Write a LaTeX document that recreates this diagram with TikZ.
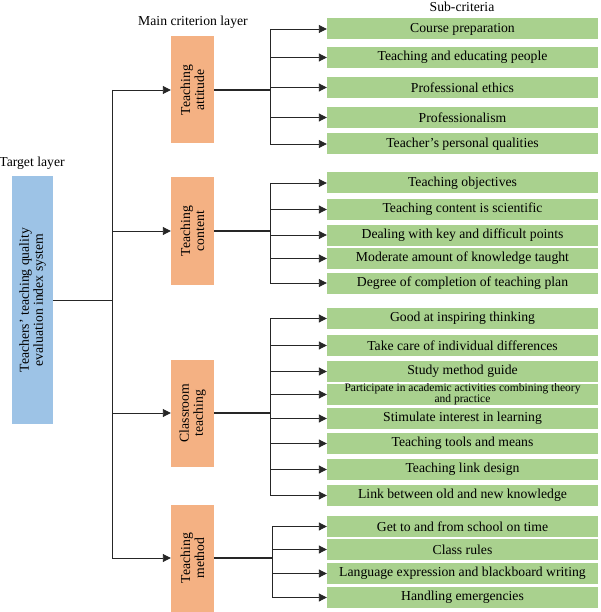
\documentclass[tikz,border=0pt]{standalone}
\usepackage{fontspec}
\setmainfont{Liberation Serif}
\usetikzlibrary{positioning,arrows.meta}

\definecolor{targetblue}{HTML}{9DC3E6}
\definecolor{mainorange}{HTML}{F4B183}
\definecolor{subgreen}{HTML}{A9D18E}

\begin{document}
\begin{tikzpicture}[
        x=1pt, y=-1pt,
        >={Triangle[length=8pt, width=8pt]},
        font=\fontsize{13.7}{14}\selectfont,
        layertag/.style={align=center, inner sep=0pt},
        target/.style={fill=targetblue, align=center, rotate=90, minimum width=247pt, minimum height=41pt, inner sep=0pt},
        main/.style={fill=mainorange, align=center, rotate=90, minimum width=107pt, minimum height=43pt, inner sep=0pt},
        sub/.style={fill=subgreen, align=center, minimum width=271pt, minimum height=21pt, inner sep=0pt},
        link/.style={draw=black!85, line width=0.9pt},
        branch/.style={draw=black!85, line width=1.7pt}
      ]
      \useasboundingbox (0, 0) rectangle (600, 612);

      % layer tags
      \node (TL) at(32, 163) [layertag] {Target layer};
      \node (ML) at(193, 22) [layertag] {Main criterion layer};
      \node (SL) at(462, 7) [layertag] {Sub-criteria};

      % target and main criteria
      \node (TT) at(32.5, 300) [target] {Teachers’ teaching quality\\evaluation index system};
      \node (MA) at(192.5, 90) [main] {Teaching\\attitude};
      \node (MC) at(192.5, 231) [main] {Teaching\\content};
      \node (MR) at(192.5, 413) [main] {Classroom\\teaching};
      \node (MM) at(192.5, 558) [main] {Teaching\\method};

      % sub-criteria
      \node (CP) at(462.5, 29) [sub] {Course preparation};
      \node (TE) at(462.5, 57.5) [sub] {Teaching and educating people};
      \node (PE) at(462.5, 87.5) [sub] {Professional ethics};
      \node (PR) at(462.5, 117.5) [sub] {Professionalism};
      \node (TQ) at(462.5, 144) [sub] {Teacher’s personal qualities};

      \node (TO) at(462.5, 183) [sub] {Teaching objectives};
      \node (TC) at(462.5, 209.5) [sub] {Teaching content is scientific};
      \node (KD) at(462.5, 235) [sub] {Dealing with key and difficult points};
      \node (MK) at(462.5, 258.5) [sub] {Moderate amount of knowledge taught};
      \node (DC) at(462.5, 283) [sub] {Degree of completion of teaching plan};

      \node (GI) at(462.5, 318.5) [sub] {Good at inspiring thinking};
      \node (ID) at(462.5, 345.5) [sub] {Take care of individual differences};
      \node (SG) at(462.5, 371.5) [sub] {Study method guide};
      \node (AP) at(462.5, 394.5) [sub, font=\fontsize{11.5}{10}\selectfont] {Participate in academic activities combining theory\\and practice};
      \node (SI) at(462.5, 418.5) [sub] {Stimulate interest in learning};
      \node (TM) at(462.5, 443.5) [sub] {Teaching tools and means};
      \node (LD) at(462.5, 469.5) [sub] {Teaching link design};
      \node (LK) at(462.5, 495.5) [sub] {Link between old and new knowledge};

      \node (GS) at(462.5, 526.5) [sub] {Get to and from school on time};
      \node (CR) at(462.5, 549.5) [sub] {Class rules};
      \node (LE) at(462.5, 573.5) [sub] {Language expression and blackboard writing};
      \node (HE) at(462.5, 597.5) [sub] {Handling emergencies};

      % trunk
      \coordinate (T0) at(112, 300);
      \draw[link] (TT) -- (T0);
      \draw[link] (MA -| T0) -- (MM -| T0);
      \foreach \m in {MA, MC, MR, MM}
        \draw[link, ->] (\m -| T0) -- (\m);

      % branches
      \coordinate (BA) at(270, 90);
      \coordinate (BC) at(270, 231);
      \coordinate (BR) at(270, 413);
      \coordinate (BM) at(272, 558);
      \draw[branch] (MA) -- (BA);
      \draw[branch] (MC) -- (BC);
      \draw[branch, line width=1.3pt] (MR) -- (BR);
      \draw[branch, line width=1.3pt] (MM) -- (BM);

      \draw[link] (CP -| BA) -- (TQ -| BA);
      \draw[link] (TO -| BC) -- (DC -| BC);
      \draw[link] (GI -| BR) -- (LK -| BR);
      \draw[link] (GS -| BM) -- (HE -| BM);
      \foreach \s in {CP, TE, PE, PR, TQ}
        \draw[link, ->] (\s -| BA) -- (\s);
      \foreach \s in {TO, TC, KD, MK, DC}
        \draw[link, ->] (\s -| BC) -- (\s);
      \foreach \s in {GI, ID, SG, AP, SI, TM, LD, LK}
        \draw[link, ->] (\s -| BR) -- (\s);
      \foreach \s in {GS, CR, LE, HE}
        \draw[link, ->] (\s -| BM) -- (\s);
    \end{tikzpicture}
\end{document}
